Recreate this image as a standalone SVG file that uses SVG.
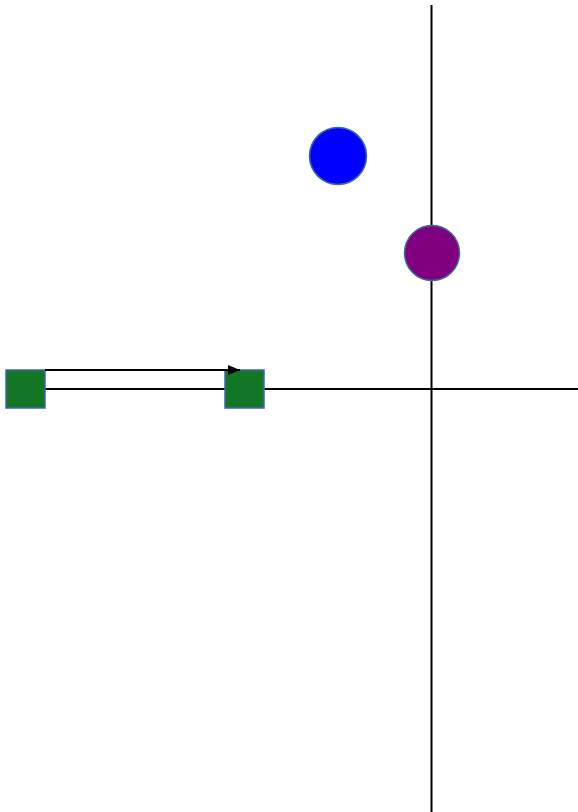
<svg xmlns="http://www.w3.org/2000/svg" width="578" height="812" viewBox="0 0 578 812">
<style>
.axis{stroke:#000;stroke-width:2;fill:none}
.conn{stroke:#000;stroke-width:2;fill:none}
.sq{fill:#137624;stroke:#3b6aa8;stroke-width:1.5}
.node{stroke:#3b6aa8;stroke-width:1.5}
</style>
<defs>
<marker id="arrow" markerWidth="12" markerHeight="10" refX="12" refY="5" orient="auto" markerUnits="userSpaceOnUse">
<path d="M0,0 L12,5 L0,10 Z" fill="#000"/>
</marker>
</defs>
<g id="axes">
<line class="axis" x1="431.5" y1="5" x2="431.5" y2="812"/>
<line class="axis" x1="45" y1="389" x2="578" y2="389"/>
</g>
<g id="square1"><rect class="sq" x="6" y="370" width="39" height="38"/></g>
<g id="square2"><rect class="sq" x="225" y="370" width="39" height="38"/></g>
<g id="blueCircle"><circle class="node" cx="338" cy="156" r="28.5" fill="#0000ff"/></g>
<g id="purpleCircle"><circle class="node" cx="432" cy="253" r="27.5" fill="#800080"/></g>
<g id="connectors">
<line class="conn" x1="45" y1="370" x2="240" y2="370" marker-end="url(#arrow)"/>
</g>
</svg>
